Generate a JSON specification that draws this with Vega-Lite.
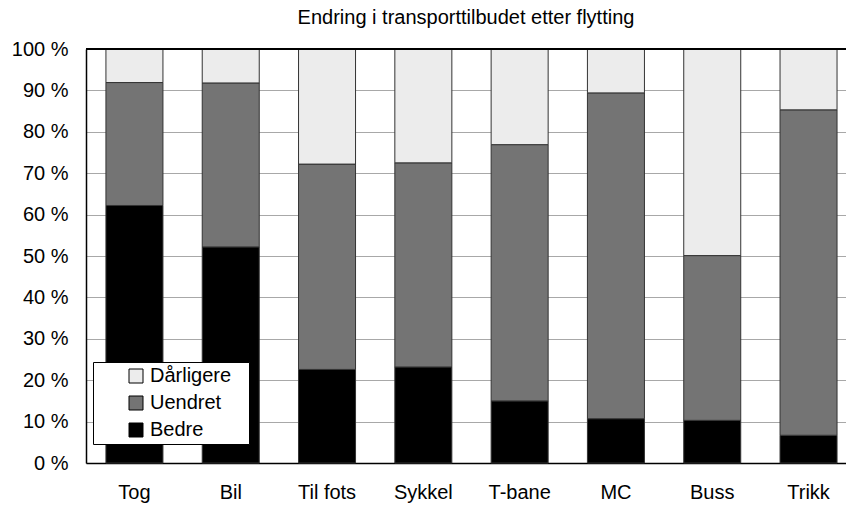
{
  "$schema": "https://vega.github.io/schema/vega-lite/v6.json",
  "width": 760,
  "height": 414,
  "autosize": {"type": "none"},
  "padding": {"left": 86, "top": 49, "right": 0, "bottom": 42},
  "background": "white",
  "title": {"text": "Endring i transporttilbudet etter flytting", "font": "Liberation Sans", "fontSize": 20, "fontWeight": "normal", "color": "#000", "anchor": "middle", "offset": 11},
  "config": {
    "view": {"stroke": null},
    "font": "Liberation Sans"
  },
  "data": {
    "values": [
      {"mode": "Tog", "kat": "Bedre", "ord": 1, "pct": 62.2},
      {"mode": "Tog", "kat": "Uendret", "ord": 2, "pct": 29.7},
      {"mode": "Tog", "kat": "Dårligere", "ord": 3, "pct": 8.1},
      {"mode": "Bil", "kat": "Bedre", "ord": 1, "pct": 52.2},
      {"mode": "Bil", "kat": "Uendret", "ord": 2, "pct": 39.6},
      {"mode": "Bil", "kat": "Dårligere", "ord": 3, "pct": 8.2},
      {"mode": "Til fots", "kat": "Bedre", "ord": 1, "pct": 22.6},
      {"mode": "Til fots", "kat": "Uendret", "ord": 2, "pct": 49.6},
      {"mode": "Til fots", "kat": "Dårligere", "ord": 3, "pct": 27.8},
      {"mode": "Sykkel", "kat": "Bedre", "ord": 1, "pct": 23.2},
      {"mode": "Sykkel", "kat": "Uendret", "ord": 2, "pct": 49.3},
      {"mode": "Sykkel", "kat": "Dårligere", "ord": 3, "pct": 27.5},
      {"mode": "T-bane", "kat": "Bedre", "ord": 1, "pct": 15.0},
      {"mode": "T-bane", "kat": "Uendret", "ord": 2, "pct": 61.9},
      {"mode": "T-bane", "kat": "Dårligere", "ord": 3, "pct": 23.1},
      {"mode": "MC", "kat": "Bedre", "ord": 1, "pct": 10.7},
      {"mode": "MC", "kat": "Uendret", "ord": 2, "pct": 78.7},
      {"mode": "MC", "kat": "Dårligere", "ord": 3, "pct": 10.6},
      {"mode": "Buss", "kat": "Bedre", "ord": 1, "pct": 10.3},
      {"mode": "Buss", "kat": "Uendret", "ord": 2, "pct": 39.8},
      {"mode": "Buss", "kat": "Dårligere", "ord": 3, "pct": 49.9},
      {"mode": "Trikk", "kat": "Bedre", "ord": 1, "pct": 6.7},
      {"mode": "Trikk", "kat": "Uendret", "ord": 2, "pct": 78.6},
      {"mode": "Trikk", "kat": "Dårligere", "ord": 3, "pct": 14.7}
    ]
  },
  "layer": [
    {
      "mark": {"type": "bar", "stroke": "#333", "strokeWidth": 1},
      "encoding": {
        "x": {
          "field": "mode", "type": "nominal", "sort": null,
          "scale": {"paddingInner": 0.408, "paddingOuter": 0.15, "align": 0.69},
          "axis": {"title": null, "labelAngle": 0, "labelFontSize": 20, "labelColor": "#000", "labelPadding": 19, "ticks": false, "domainColor": "#000", "domainWidth": 1.5}
        },
        "y": {
          "field": "pct", "type": "quantitative", "stack": "zero",
          "scale": {"domain": [0, 100], "nice": false},
          "axis": {"title": null, "values": [0,10,20,30,40,50,60,70,80,90,100], "labelExpr": "datum.value + ' %'", "labelFontSize": 20, "labelColor": "#000", "labelPadding": 18, "ticks": false, "domainColor": "#000", "domainWidth": 1.5, "gridColor": "#a8a8a8", "gridWidth": 1.2}
        },
        "color": {
          "field": "kat", "type": "nominal",
          "scale": {"domain": ["Dårligere", "Uendret", "Bedre"], "range": ["#ececec", "#747474", "#000000"]},
          "legend": {"title": "\u2003", "titleOrient": "right", "titleFontSize": 40, "titlePadding": 14, "orient": "none", "legendX": 7, "legendY": 313, "direction": "vertical", "fillColor": "white", "strokeColor": "#000", "padding": 4, "symbolType": "square", "symbolSize": 196, "symbolStrokeColor": "#000", "symbolStrokeWidth": 1, "symbolOffset": 29, "labelFontSize": 20, "labelColor": "#000", "labelOffset": 4, "rowPadding": 7}
        },
        "order": {"field": "ord", "type": "quantitative", "sort": "ascending"}
      }
    },
    {
      "mark": {"type": "rule", "color": "#000", "strokeWidth": 1.5},
      "encoding": {"y": {"datum": 100}}
    }
  ]
}
